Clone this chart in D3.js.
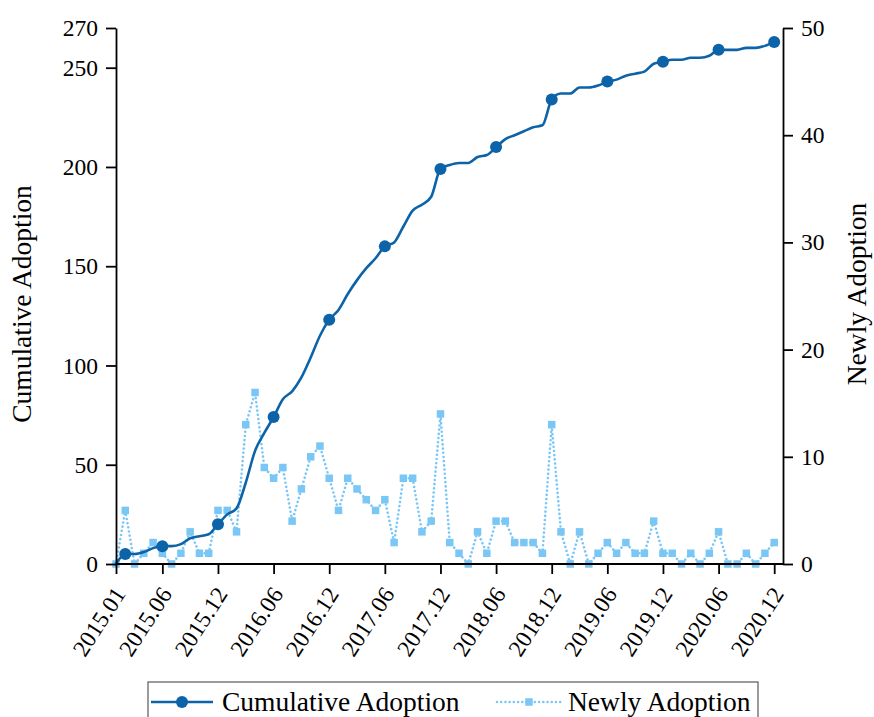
<!DOCTYPE html>
<html>
<head>
<meta charset="utf-8">
<script src="https://cdn.jsdelivr.net/npm/d3@7"></script>
<style>
  body { margin: 0; background: #fff; }
  svg { display: block; font-family: "Liberation Serif", "Times New Roman", serif; }
</style>
</head>
<body>
<svg id="chart"></svg>
<script>
const months = [
  "2015.01","2015.02","2015.03","2015.04","2015.05","2015.06","2015.07","2015.08","2015.09","2015.10","2015.11","2015.12",
  "2016.01","2016.02","2016.03","2016.04","2016.05","2016.06","2016.07","2016.08","2016.09","2016.10","2016.11","2016.12",
  "2017.01","2017.02","2017.03","2017.04","2017.05","2017.06","2017.07","2017.08","2017.09","2017.10","2017.11","2017.12",
  "2018.01","2018.02","2018.03","2018.04","2018.05","2018.06","2018.07","2018.08","2018.09","2018.10","2018.11","2018.12",
  "2019.01","2019.02","2019.03","2019.04","2019.05","2019.06","2019.07","2019.08","2019.09","2019.10","2019.11","2019.12",
  "2020.01","2020.02","2020.03","2020.04","2020.05","2020.06","2020.07","2020.08","2020.09","2020.10","2020.11","2020.12"
];

const newlyAdoption = [
  0, 5, 0, 1, 2, 1, 0, 1, 3, 1, 1, 5,
  5, 3, 13, 16, 9, 8, 9, 4, 7, 10, 11, 8,
  5, 8, 7, 6, 5, 6, 2, 8, 8, 3, 4, 14,
  2, 1, 0, 3, 1, 4, 4, 2, 2, 2, 1, 13,
  3, 0, 3, 0, 1, 2, 1, 2, 1, 1, 4, 1,
  1, 0, 1, 0, 1, 3, 0, 0, 1, 0, 1, 2
];

const cumulativeAdoption = [
  0, 5, 5, 6, 8, 9, 9, 10, 13, 14, 15, 20,
  25, 28, 41, 57, 66, 74, 83, 87, 94, 104, 115, 123,
  128, 136, 143, 149, 154, 160, 162, 170, 178, 181, 185, 199,
  201, 202, 202, 205, 206, 210, 214, 216, 218, 220, 221, 234,
  237, 237, 240, 240, 241, 243, 244, 246, 247, 248, 252, 253,
  254, 254, 255, 255, 256, 259, 259, 259, 260, 260, 261, 263
];

// months that carry a round marker on the cumulative line
const markerMonths = ["2015.02","2015.06","2015.12","2016.06","2016.12","2017.06","2017.12",
  "2018.06","2018.12","2019.06","2019.12","2020.06","2020.12"];

const xTickLabels = ["2015.01","2015.06","2015.12","2016.06","2016.12","2017.06","2017.12",
  "2018.06","2018.12","2019.06","2019.12","2020.06","2020.12"];
const leftTicks = [0, 50, 100, 150, 200, 250, 270];
const rightTicks = [0, 10, 20, 30, 40, 50];

const width = 874, height = 717;
const plot = { left: 116, right: 783, top: 28, bottom: 564 };
const darkBlue = "#0d63a8", lightBlue = "#7ac7f6";

const svg = d3.select("#chart").attr("width", width).attr("height", height);

const x = d3.scalePoint().domain(months).range([plot.left, 774.2]);
const yLeft = d3.scaleLinear().domain([0, 270]).range([plot.bottom, plot.top]);
const yRight = d3.scaleLinear().domain([0, 50]).range([plot.bottom, plot.top]);

const newlyData = months.map((m, i) => ({ m, v: newlyAdoption[i] }));
const cumData = months.map((m, i) => ({ m, v: cumulativeAdoption[i] }));

// newly adoption: dotted line with squares
svg.append("path")
  .datum(newlyData)
  .attr("fill", "none")
  .attr("stroke", lightBlue)
  .attr("stroke-width", 2.6)
  .attr("stroke-linecap", "round")
  .attr("stroke-dasharray", "0.01 4.2")
  .attr("d", d3.line().x(d => x(d.m)).y(d => yRight(d.v)));

const sq = 7.5;
svg.selectAll(".newly")
  .data(newlyData)
  .enter()
  .append("rect")
  .attr("class", "newly")
  .attr("x", d => x(d.m) - sq / 2)
  .attr("y", d => yRight(d.v) - sq / 2)
  .attr("width", sq)
  .attr("height", sq)
  .attr("fill", lightBlue);

// cumulative adoption: smooth line with round markers
svg.append("path")
  .datum(cumData)
  .attr("fill", "none")
  .attr("stroke", darkBlue)
  .attr("stroke-width", 2.6)
  .attr("d", d3.line().curve(d3.curveMonotoneX).x(d => x(d.m)).y(d => yLeft(d.v)));

svg.selectAll(".cum")
  .data(cumData.filter(d => markerMonths.includes(d.m)))
  .enter()
  .append("circle")
  .attr("class", "cum")
  .attr("cx", d => x(d.m))
  .attr("cy", d => yLeft(d.v))
  .attr("r", 6)
  .attr("fill", darkBlue);

// axes
function styleAxis(g) {
  g.selectAll("path, line").attr("stroke", "#000").attr("stroke-width", 1.8);
  g.selectAll("text").attr("fill", "#000").style("font-size", "23.5px")
    .style("font-family", '"Liberation Serif", serif');
}

svg.append("g")
  .attr("transform", `translate(0,${plot.bottom})`)
  .call(d3.axisBottom(x).tickValues(xTickLabels).tickSize(10).tickSizeOuter(0))
  .call(g => g.select(".domain").attr("d", `M${plot.left},0H${plot.right}`))
  .call(styleAxis)
  .call(g => g.selectAll(".tick text")
    .attr("text-anchor", "end")
    .attr("y", 0)
    .attr("dy", 0)
    .attr("transform", "translate(10,30) rotate(-57)"));

svg.append("g")
  .attr("transform", `translate(${plot.left},0)`)
  .call(d3.axisLeft(yLeft).tickValues(leftTicks).tickSize(10).tickSizeOuter(0).tickPadding(8))
  .call(styleAxis);

svg.append("g")
  .attr("transform", `translate(${plot.right},0)`)
  .call(d3.axisRight(yRight).tickValues(rightTicks).tickSize(10).tickSizeOuter(0).tickPadding(8))
  .call(styleAxis);

// axis titles
svg.append("text")
  .attr("transform", `translate(31,${(plot.top + plot.bottom) / 2 + 8}) rotate(-90)`)
  .attr("text-anchor", "middle")
  .style("font-size", "27.5px")
  .text("Cumulative Adoption");

svg.append("text")
  .attr("transform", `translate(866,${(plot.top + plot.bottom) / 2 - 2}) rotate(-90)`)
  .attr("text-anchor", "middle")
  .style("font-size", "27.5px")
  .text("Newly Adoption");

// legend
const legend = svg.append("g");
legend.append("rect")
  .attr("x", 148).attr("y", 682)
  .attr("width", 610).attr("height", 60)
  .attr("fill", "#fff")
  .attr("stroke", "#666")
  .attr("stroke-width", 1.3);

legend.append("line")
  .attr("x1", 151).attr("x2", 213).attr("y1", 702).attr("y2", 702)
  .attr("stroke", darkBlue).attr("stroke-width", 2.6);
legend.append("circle")
  .attr("cx", 182).attr("cy", 702).attr("r", 6).attr("fill", darkBlue);
legend.append("text")
  .attr("x", 222).attr("y", 711)
  .style("font-size", "27.5px")
  .text("Cumulative Adoption");

legend.append("line")
  .attr("x1", 497).attr("x2", 562).attr("y1", 702).attr("y2", 702)
  .attr("stroke", lightBlue).attr("stroke-width", 2.6)
  .attr("stroke-linecap", "round").attr("stroke-dasharray", "0.01 4.2");
legend.append("rect")
  .attr("x", 529 - sq / 2).attr("y", 702 - sq / 2)
  .attr("width", sq).attr("height", sq).attr("fill", lightBlue);
legend.append("text")
  .attr("x", 568).attr("y", 711)
  .style("font-size", "27.5px")
  .text("Newly Adoption");
</script>
</body>
</html>
